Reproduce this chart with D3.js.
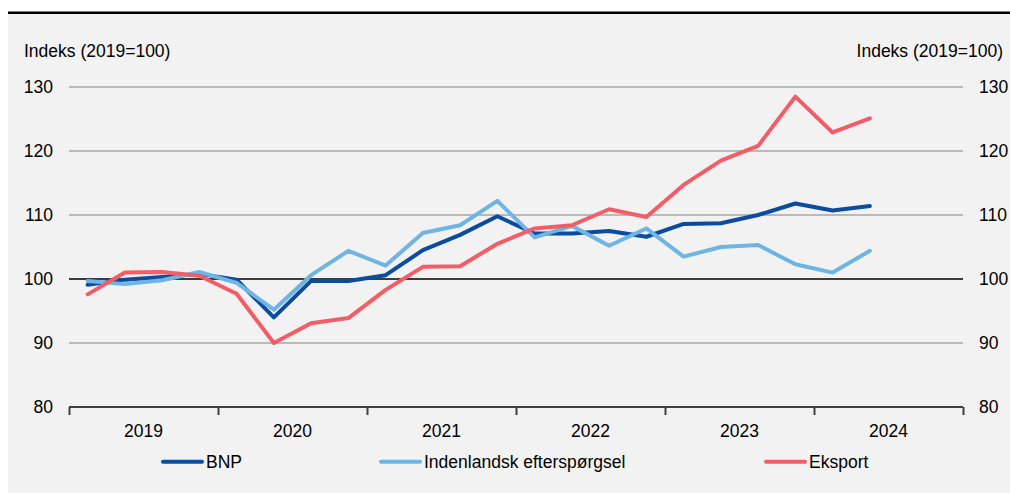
<!DOCTYPE html>
<html>
<head>
<meta charset="utf-8">
<script src="https://cdn.jsdelivr.net/npm/d3@7"></script>
<style>
  html, body { margin: 0; padding: 0; background: #ffffff; }
  svg { display: block; font-family: "Liberation Sans", Arial, sans-serif; }
</style>
</head>
<body>
<svg id="chart" width="1010" height="493"></svg>
<script>
// ---- Data ----
const years = ["2019", "2020", "2021", "2022", "2023", "2024"];
const quarters = ["2019K1","2019K2","2019K3","2019K4","2020K1","2020K2","2020K3","2020K4",
                  "2021K1","2021K2","2021K3","2021K4","2022K1","2022K2","2022K3","2022K4",
                  "2023K1","2023K2","2023K3","2023K4","2024K1","2024K2"];
const bnp = [99.1, 99.9, 100.3, 100.8, 99.9, 94.0, 99.7, 99.7, 100.6, 104.5, 106.9, 109.8,
             107.1, 107.1, 107.5, 106.6, 108.6, 108.7, 110.0, 111.8, 110.7, 111.4];
const indenlandsk = [99.7, 99.2, 99.8, 101.1, 99.4, 95.2, 100.6, 104.4, 102.1, 107.2, 108.4, 112.2,
                     106.5, 108.3, 105.2, 107.9, 103.5, 105.0, 105.3, 102.3, 101.0, 104.4];
const eksport = [97.6, 101.0, 101.1, 100.5, 97.7, 90.0, 93.1, 93.9, 98.3, 101.9, 102.0, 105.5,
                 107.9, 108.4, 110.9, 109.7, 114.7, 118.5, 120.8, 128.5, 122.9, 125.1];
const yTicks = [80, 90, 100, 110, 120, 130];
const seriesNames = ["BNP", "Indenlandsk efterspørgsel", "Eksport"];
const axisTitle = "Indeks (2019=100)";

const colors = ["#0b4c9f", "#6fb5e4", "#f25d67"];
const seriesData = [bnp, indenlandsk, eksport];

// ---- Layout ----
const svg = d3.select("#chart");
const plotLeft = 69, plotRight = 963, plotTop = 87, plotBottom = 407;

svg.append("rect").attr("x", 8).attr("y", 14).attr("width", 1002).attr("height", 479).attr("fill", "#f2f2f2");
svg.append("line").attr("x1", 8).attr("x2", 1010).attr("y1", 12.7).attr("y2", 12.7)
   .attr("stroke", "#000").attr("stroke-width", 2.5);

const x = d3.scaleLinear().domain([0, quarters.length + 2]).range([plotLeft, plotRight]);
const y = d3.scaleLinear().domain([80, 130]).range([plotBottom, plotTop]);

// gridlines
svg.append("g").selectAll("line").data(yTicks.filter(v => v !== 80)).join("line")
  .attr("x1", plotLeft).attr("x2", plotRight)
  .attr("y1", d => y(d)).attr("y2", d => y(d))
  .attr("stroke", d => d === 100 ? "#000" : "#a6a6a6")
  .attr("stroke-width", d => d === 100 ? 1.4 : 1.3);

// left y labels
const leftAxis = d3.axisLeft(y).tickValues(yTicks).tickSize(0).tickPadding(0);
const gl = svg.append("g").attr("transform", `translate(53,0)`).call(leftAxis);
gl.select(".domain").remove();
gl.selectAll("text").attr("font-size", "17.5px").attr("fill", "#000").attr("font-family", "Liberation Sans, Arial, sans-serif");

const rightAxis = d3.axisRight(y).tickValues(yTicks).tickSize(0).tickPadding(0);
const gr = svg.append("g").attr("transform", `translate(979,0)`).call(rightAxis);
gr.select(".domain").remove();
gr.selectAll("text").attr("font-size", "17.5px").attr("fill", "#000").attr("font-family", "Liberation Sans, Arial, sans-serif");

// axis titles
svg.append("text").attr("x", 24).attr("y", 57).attr("font-size", "17.5px").attr("fill", "#000").text(axisTitle);
svg.append("text").attr("x", 1003).attr("y", 57).attr("text-anchor", "end").attr("font-size", "17.5px").attr("fill", "#000").text(axisTitle);

// x axis
const xYear = d3.scaleLinear().domain([0, years.length]).range([plotLeft, plotRight]);
const xAxis = d3.axisBottom(xYear).tickValues(d3.range(years.length + 1)).tickSize(8).tickFormat("");
const gx = svg.append("g").attr("transform", `translate(0,${plotBottom})`).call(xAxis);
gx.select(".domain").attr("stroke", "#404040").attr("stroke-width", 2).attr("d", `M${plotLeft},0H${plotRight}`);
gx.selectAll(".tick line").attr("stroke", "#404040").attr("stroke-width", 2);

svg.append("g").selectAll("text").data(years).join("text")
  .attr("x", (d, i) => xYear(i + 0.5)).attr("y", 437)
  .attr("text-anchor", "middle").attr("font-size", "17.5px").attr("fill", "#000")
  .text(d => d);

// lines
const xq = d3.scaleLinear().domain([0, 24]).range([plotLeft, plotRight]);
const line = d3.line().x((d, i) => xq(i + 0.5)).y(d => y(d));
svg.append("g").selectAll("path").data(seriesData).join("path")
  .attr("d", d => line(d))
  .attr("fill", "none")
  .attr("stroke", (d, i) => colors[i])
  .attr("stroke-width", 4)
  .attr("stroke-linejoin", "round")
  .attr("stroke-linecap", "round");

// legend
const legendX = [163, 381, 766];
const lg = svg.append("g").selectAll("g").data(seriesNames).join("g")
  .attr("transform", (d, i) => `translate(${legendX[i]},461.7)`);
lg.append("line").attr("x1", 0).attr("x2", 39).attr("y1", 0).attr("y2", 0)
  .attr("stroke", (d, i) => colors[i]).attr("stroke-width", 4).attr("stroke-linecap", "round");
lg.append("text").attr("x", 43).attr("y", 6.2).attr("font-size", "17.5px").attr("fill", "#000").text(d => d);
</script>
</body>
</html>
